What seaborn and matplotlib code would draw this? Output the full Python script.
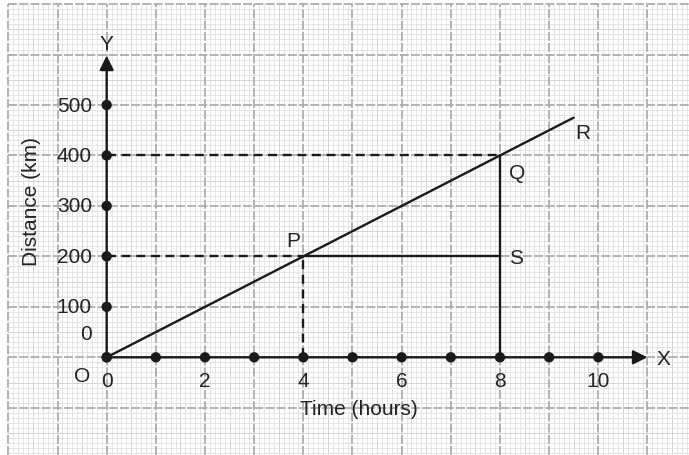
import numpy as np
import pandas as pd
import seaborn as sns
import matplotlib
matplotlib.use("Agg")
import matplotlib.pyplot as plt

# Distance-time data: uniform motion at 50 km/h
time_line = [0, 4, 8, 9.5]
dist_line = [0, 200, 400, 475]

# Marked points on the axes
x_marks = [0, 1, 2, 3, 4, 5, 6, 7, 8, 9, 10]
y_marks = [0, 100, 200, 300, 400, 500]
x_labels = [0, 2, 4, 6, 8, 10]
y_labels = [100, 200, 300, 400, 500]

# Named points on the graph
P = (4, 200)
Q = (8, 400)
S = (8, 200)

sns.set_style("white")
plt.rcParams["font.family"] = ["Liberation Sans", "DejaVu Sans"]

fig = plt.figure(figsize=(6.89, 4.56), dpi=100)
ax = fig.add_axes([0, 0, 1, 1])
ax.set_xlim(-2.170, 11.845)
ax.set_ylim(-193.6, 710.1)
ax.axis("off")

# Graph-paper background
x0, x1 = -2.0, 11.845
y0, y1 = -193.6, 700.0
for v in np.arange(-2.0, 11.9, 0.1):
    k = int(round(v * 10))
    if k % 10 == 0:
        continue
    col = "#cdcdcd" if k % 5 == 0 else "#e0e0e0"
    ax.plot([v, v], [y0, y1], color=col, lw=0.6, zorder=0)
for v in np.arange(-190, 701, 10):
    k = int(round(v / 10))
    if k % 10 == 0:
        continue
    col = "#cdcdcd" if k % 5 == 0 else "#e0e0e0"
    ax.plot([x0, x1], [v, v], color=col, lw=0.6, zorder=0)
for v in range(-2, 12):
    ax.plot([v, v], [y0, y1], color="#adadad", lw=1.3,
            ls=(0, (5, 1.2)), zorder=1)
for v in range(-100, 701, 100):
    ax.plot([x0, x1], [v, v], color="#adadad", lw=1.3,
            ls=(0, (5, 1.2)), zorder=1)

ink = "#1a1a1a"
lw = 1.7

# Axes with arrowheads
arrow = dict(arrowstyle="-|>,head_length=0.85,head_width=0.42",
             lw=lw, color=ink, shrinkA=0, shrinkB=0)
ax.annotate("", xy=(11.0, 0), xytext=(0, 0), arrowprops=arrow, zorder=3)
ax.annotate("", xy=(0, 598), xytext=(0, 0), arrowprops=arrow, zorder=3)

# Distance-time line O-R
line_df = pd.DataFrame({"time": time_line, "distance": dist_line})
sns.lineplot(data=line_df, x="time", y="distance", ax=ax, color=ink,
             lw=lw, zorder=4)

# Construction lines
dash = (0, (3.8, 2.4))
ax.plot([0, Q[0]], [Q[1], Q[1]], color=ink, lw=lw, ls=dash, zorder=3)
ax.plot([0, P[0]], [P[1], P[1]], color=ink, lw=lw, ls=dash, zorder=3)
ax.plot([P[0], P[0]], [0, P[1]], color=ink, lw=lw, ls=dash, zorder=3)
ax.plot([P[0], S[0]], [P[1], S[1]], color=ink, lw=lw, zorder=3)
ax.plot([Q[0], Q[0]], [0, Q[1]], color=ink, lw=lw, zorder=3)

# Dots on the axes
sns.scatterplot(x=x_marks, y=[0] * len(x_marks), ax=ax, color=ink,
                s=55, edgecolor="none", zorder=5)
sns.scatterplot(x=[0] * len(y_marks), y=y_marks, ax=ax, color=ink,
                s=55, edgecolor="none", zorder=5)

fs = 15
tc = "#222222"
for v in x_labels:
    ax.text(v, -45, str(v), ha="center", va="center", fontsize=fs, color=tc)
for v in y_labels:
    ax.text(-0.30, v, str(v), ha="right", va="center", fontsize=fs, color=tc)
ax.text(-0.30, 48, "0", ha="right", va="center", fontsize=fs, color=tc)
ax.text(-0.50, -37, "O", ha="center", va="center", fontsize=fs, color=tc)
ax.text(11.32, -2, "X", ha="center", va="center", fontsize=fs, color=tc)
ax.text(0.0, 621, "Y", ha="center", va="center", fontsize=fs, color=tc)

ax.text(5.13, -102, "Time (hours)", ha="center", va="center",
        fontsize=fs, color=tc)
ax.text(-1.52, 310, "Distance (km)", ha="center", va="center",
        rotation=90, fontsize=fs, color=tc)

ax.text(3.80, 231, "P", ha="center", va="center", fontsize=fs, color=tc)
ax.text(8.35, 367, "Q", ha="center", va="center", fontsize=fs, color=tc)
ax.text(9.69, 446, "R", ha="center", va="center", fontsize=fs, color=tc)
ax.text(8.33, 198, "S", ha="center", va="center", fontsize=fs, color=tc)

fig.savefig("out.png", dpi=100)
